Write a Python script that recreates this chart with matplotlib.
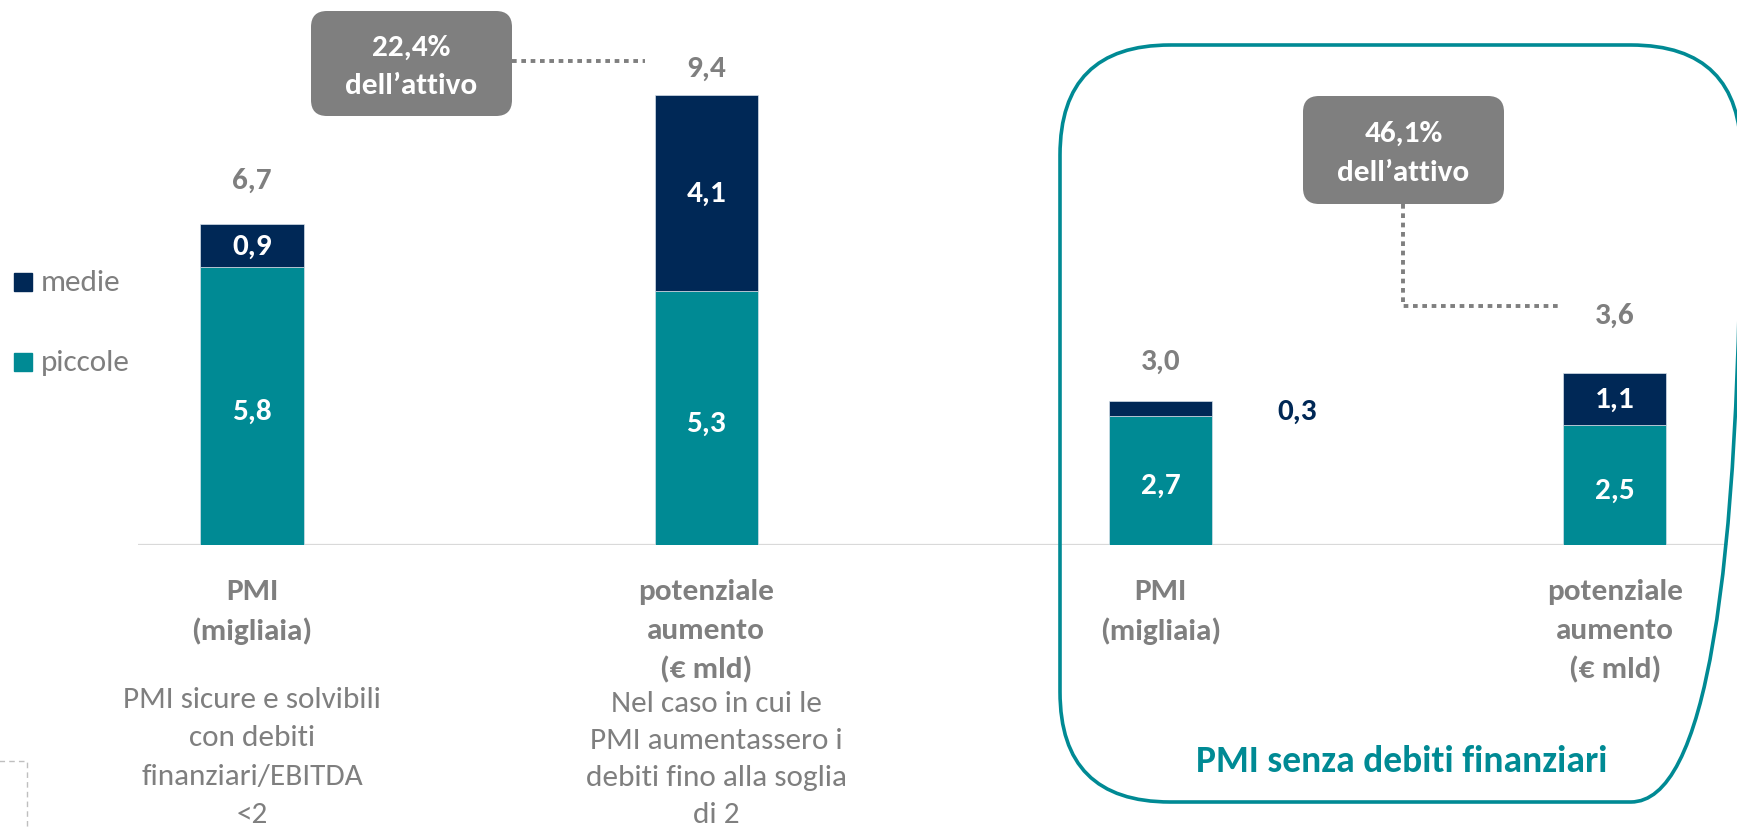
import matplotlib
matplotlib.use("Agg")
import matplotlib.pyplot as plt
from matplotlib import font_manager
from matplotlib.patches import FancyBboxPatch, Rectangle
from matplotlib.transforms import blended_transform_factory
import numpy as np

# --- data -------------------------------------------------------------
piccole = [5.8, 5.3, 2.7, 2.5]
medie = [0.9, 4.1, 0.3, 1.1]
totals = [6.7, 9.4, 3.0, 3.6]
cat_labels = [
    ["PMI", "(migliaia)"],
    ["potenziale", "aumento", "(€ mld)"],
    ["PMI", "(migliaia)"],
    ["potenziale", "aumento", "(€ mld)"],
]
notes = [
    ["PMI sicure e solvibili", "con debiti", "finanziari/EBITDA", "<2"],
    ["Nel caso in cui le", "PMI aumentassero i", "debiti fino alla soglia", "di 2"],
    [],
    [],
]
callouts = [["22,4%", "dell’attivo"], ["46,1%", "dell’attivo"]]
box_title = "PMI senza debiti finanziari"
legend_labels = ["medie", "piccole"]

# --- style ------------------------------------------------------------
TEAL = "#008a94"
NAVY = "#002856"
GREY = "#7f7f7f"
W, H = 1737, 829
PX_PER_UNIT = 47.9
FS = 22.5

avail = {f.name for f in font_manager.fontManager.ttflist}
fam = "Open Sans"
for cand in ["Carlito", "Open Sans", "Lato"]:
    if cand in avail:
        fam = cand
        break
plt.rcParams["font.family"] = [fam, "DejaVu Sans"]


def fmt(v):
    return f"{v:.1f}".replace(".", ",")


fig = plt.figure(figsize=(W / 100, H / 100), dpi=100)

# main bar axes, placed so the baseline sits at y=546 px
ax = fig.add_axes([138 / W, 1 - 546 / H, 1590 / W, 546 / H])
ax.set_xlim(-0.251, 3.249)
ax.set_ylim(0, 546 / PX_PER_UNIT)
ax.axis("off")

x = np.arange(len(piccole))
bw = 0.227
ax.bar(x, piccole, bw, color=TEAL, edgecolor="#d5dfe8", linewidth=0.5, zorder=2)
ax.bar(x, medie, bw, bottom=piccole, color=NAVY, edgecolor="#d5dfe8", linewidth=0.5, zorder=2)
ax.axhline(0, color="#d9d9d9", lw=1.6, zorder=1)

total_off_px = [44, 27, 40, 58]
for i in x:
    p, m, t = piccole[i], medie[i], totals[i]
    ax.text(i, p / 2 - 0.1, fmt(p), ha="center", va="center", color="white",
            fontsize=FS, fontweight="bold", zorder=3)
    if m < 0.5:
        ax.text(i + 0.3, p + m / 2 - 0.05, fmt(m), ha="center", va="center",
                color=NAVY, fontsize=FS, fontweight="bold", zorder=3)
    else:
        ax.text(i, p + m / 2, fmt(m), ha="center", va="center", color="white",
                fontsize=FS, fontweight="bold", zorder=3)
    ax.text(i, t + total_off_px[i] / PX_PER_UNIT, fmt(t), ha="center", va="center",
            color=GREY, fontsize=FS, fontweight="bold", zorder=3)

# category labels and notes under the bars
tr = blended_transform_factory(ax.transData, fig.transFigure)
note_top = [700, 704, 0, 0]
note_step = [38.5, 37, 0, 0]
for i in x:
    for k, line in enumerate(cat_labels[i]):
        ax.text(i, 1 - (592 + 39 * k) / H, line, transform=tr, ha="center", va="center",
                color=GREY, fontsize=FS, fontweight="bold", clip_on=False)
    for k, line in enumerate(notes[i]):
        ax.text(i + 0.022 * (i == 1), 1 - (note_top[i] + note_step[i] * k) / H, line,
                transform=tr, ha="center", va="center", color=GREY, fontsize=FS,
                clip_on=False)

# overlay in pixel coordinates for boxes, connectors and legend
ov = fig.add_axes([0, 0, 1, 1], zorder=5)
ov.set_xlim(0, W)
ov.set_ylim(H, 0)
ov.axis("off")
ov.patch.set_alpha(0)

# teal frame around the right group
ov.add_patch(FancyBboxPatch((1060, 46), 681, 757,
                            boxstyle="round,pad=0,rounding_size=110",
                            fc="none", ec=TEAL, lw=2.6))
ov.text(1402, 762, box_title, ha="center", va="center", color=TEAL,
        fontsize=27, fontweight="bold")

# grey callouts
boxes = [(311, 12, 201, 105), (1303, 97, 201, 108)]
for (bx, by, bwid, bh), lines in zip(boxes, callouts):
    ov.add_patch(FancyBboxPatch((bx, by), bwid, bh,
                                boxstyle="round,pad=0,rounding_size=16",
                                fc=GREY, ec="none"))
    cx = bx + bwid / 2
    ov.text(cx, by + 0.34 * bh, lines[0], ha="center", va="center", color="white",
            fontsize=FS, fontweight="bold")
    ov.text(cx, by + 0.70 * bh, lines[1], ha="center", va="center", color="white",
            fontsize=FS, fontweight="bold")

dot = dict(color=GREY, lw=2.8, linestyle=(0, (1.2, 1.2)), solid_capstyle="butt")
ov.plot([512, 645], [62, 62], **dot)
ov.plot([1403, 1403, 1558], [205, 307, 307], **dot)

# legend
for (ly, lab, col) in [(283, legend_labels[0], NAVY), (363, legend_labels[1], TEAL)]:
    ov.add_patch(Rectangle((14, ly - 9), 18, 18, color=col))
    ov.text(41, ly, lab, ha="left", va="center", color=GREY, fontsize=FS)

# partial dashed frame at bottom-left
ov.add_patch(Rectangle((-120, 762), 147, 200, fc="none", ec="#bfbfbf", lw=1,
                       linestyle=(0, (4, 3))))

fig.savefig("out.png", dpi=100)
